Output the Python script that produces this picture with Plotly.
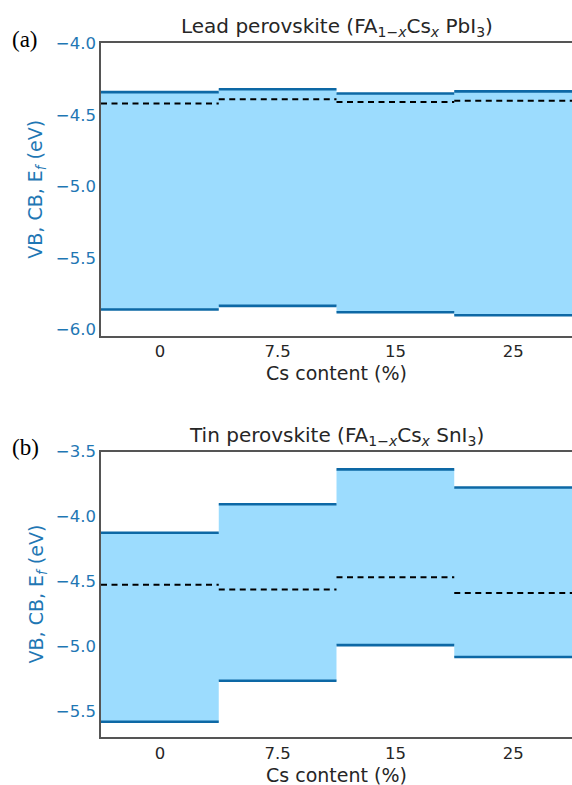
import plotly.graph_objects as go

# ---- data ----
cs_labels = ["0", "7.5", "15", "25"]

pb_cb = [-4.34, -4.32, -4.35, -4.335]
pb_ef = [-4.42, -4.39, -4.41, -4.40]
pb_vb = [-5.86, -5.835, -5.88, -5.90]

sn_cb = [-4.125, -3.905, -3.637, -3.776]
sn_ef = [-4.525, -4.563, -4.467, -4.589]
sn_vb = [-5.581, -5.265, -4.991, -5.082]

W, H = 572, 785
LINE_BLUE = "#0d68a5"
FILL_BLUE = "#9cdcfe"
TICK_BLUE = "#1f77b4"
DARK = "#262626"
SPINE = "#555555"

fig = go.Figure()


def edges(n):
    return [i - 0.5 for i in range(n + 1)]


def segs(vals):
    xs, ys = [], []
    for i, v in enumerate(vals):
        xs += [i - 0.5, i + 0.5, None]
        ys += [v, v, None]
    return xs, ys


def add_panel(vb, cb, ef, xa, ya):
    n = len(vb)
    e = edges(n)
    fig.add_trace(go.Scatter(x=e, y=vb + [vb[-1]], mode="lines", line=dict(width=0, shape="hv"),
                             xaxis=xa, yaxis=ya, showlegend=False, hoverinfo="skip"))
    fig.add_trace(go.Scatter(x=e, y=cb + [cb[-1]], mode="lines", line=dict(width=0, shape="hv"),
                             fill="tonexty", fillcolor=FILL_BLUE,
                             xaxis=xa, yaxis=ya, showlegend=False, hoverinfo="skip"))
    for vals in (cb, vb):
        xs, ys = segs(vals)
        fig.add_trace(go.Scatter(x=xs, y=ys, mode="lines", line=dict(color=LINE_BLUE, width=2.6),
                                 xaxis=xa, yaxis=ya, showlegend=False, connectgaps=False))
    xs, ys = segs(ef)
    fig.add_trace(go.Scatter(x=xs, y=ys, mode="lines",
                             line=dict(color="black", width=2, dash="6px,4.5px"),
                             xaxis=xa, yaxis=ya, showlegend=False, connectgaps=False))


add_panel(pb_vb, pb_cb, pb_ef, "x", "y")
add_panel(sn_vb, sn_cb, sn_ef, "x2", "y2")

def py(pix):
    return 1 - pix / H

def px(pix):
    return pix / W

left = 101
top1, bot1 = 35, 332
top2, bot2 = 449.5, 739.5

xcommon = dict(range=[-0.5, 3.5], tickvals=[0, 1, 2, 3], ticktext=cs_labels, ticks="",
               showgrid=False, zeroline=False, showline=True, linecolor=SPINE, linewidth=1.5,
               mirror=True, tickfont=dict(family="DejaVu Sans", size=16.5, color=DARK),
               domain=[px(left), 1])
ycommon = dict(ticks="", showgrid=False, zeroline=False, showline=True, linecolor=SPINE,
               linewidth=1.5, mirror=False, dtick=0.5, tickformat=".1f",
               tickfont=dict(family="DejaVu Sans", size=16.5, color=TICK_BLUE))

fig.update_layout(
    width=W, height=H, margin=dict(l=0, r=0, t=0, b=0),
    paper_bgcolor="white", plot_bgcolor="white",
    xaxis=dict(xcommon, anchor="y"),
    yaxis=dict(ycommon, range=[-6.045, -4.0], domain=[py(bot1), py(top1)], anchor="x",
               tickvals=[-4.0, -4.5, -5.0, -5.5, -6.0]),
    xaxis2=dict(xcommon, anchor="y2"),
    yaxis2=dict(ycommon, range=[-5.7, -3.5], domain=[py(bot2), py(top2)], anchor="x2",
                tickvals=[-3.5, -4.0, -4.5, -5.0, -5.5]),
)

cx = px((left + W) / 2)
ann = []
for top, bot, title, lab in [
    (top1, bot1, "Lead perovskite (FA<sub>1−<i>x</i></sub>Cs<sub><i>x</i></sub> PbI<sub>3</sub>)", "(a)"),
    (top2, bot2, "Tin perovskite (FA<sub>1−<i>x</i></sub>Cs<sub><i>x</i></sub> SnI<sub>3</sub>)", "(b)"),
]:
    ann.append(dict(x=cx, y=py(top - 1), xref="paper", yref="paper", text=title, showarrow=False,
                    xanchor="center", yanchor="bottom",
                    font=dict(family="DejaVu Sans", size=20, color=DARK)))
    ann.append(dict(x=px(25), y=py(top - 4), xref="paper", yref="paper", text=lab, showarrow=False,
                    xanchor="center", yanchor="middle",
                    font=dict(family="Liberation Serif", size=23, color="black")))
    ann.append(dict(x=px(37), y=py((top + bot) / 2), xref="paper", yref="paper",
                    text="VB, CB, E<sub><i>f</i></sub> (eV)", showarrow=False, textangle=-90,
                    xanchor="center", yanchor="middle",
                    font=dict(family="DejaVu Sans", size=19, color=TICK_BLUE)))
    ann.append(dict(x=cx, y=py(bot + 38), xref="paper", yref="paper", text="Cs content (%)",
                    showarrow=False, xanchor="center", yanchor="middle",
                    font=dict(family="DejaVu Sans", size=19, color=DARK)))

fig.update_layout(annotations=ann)
fig.write_html("out.html")
